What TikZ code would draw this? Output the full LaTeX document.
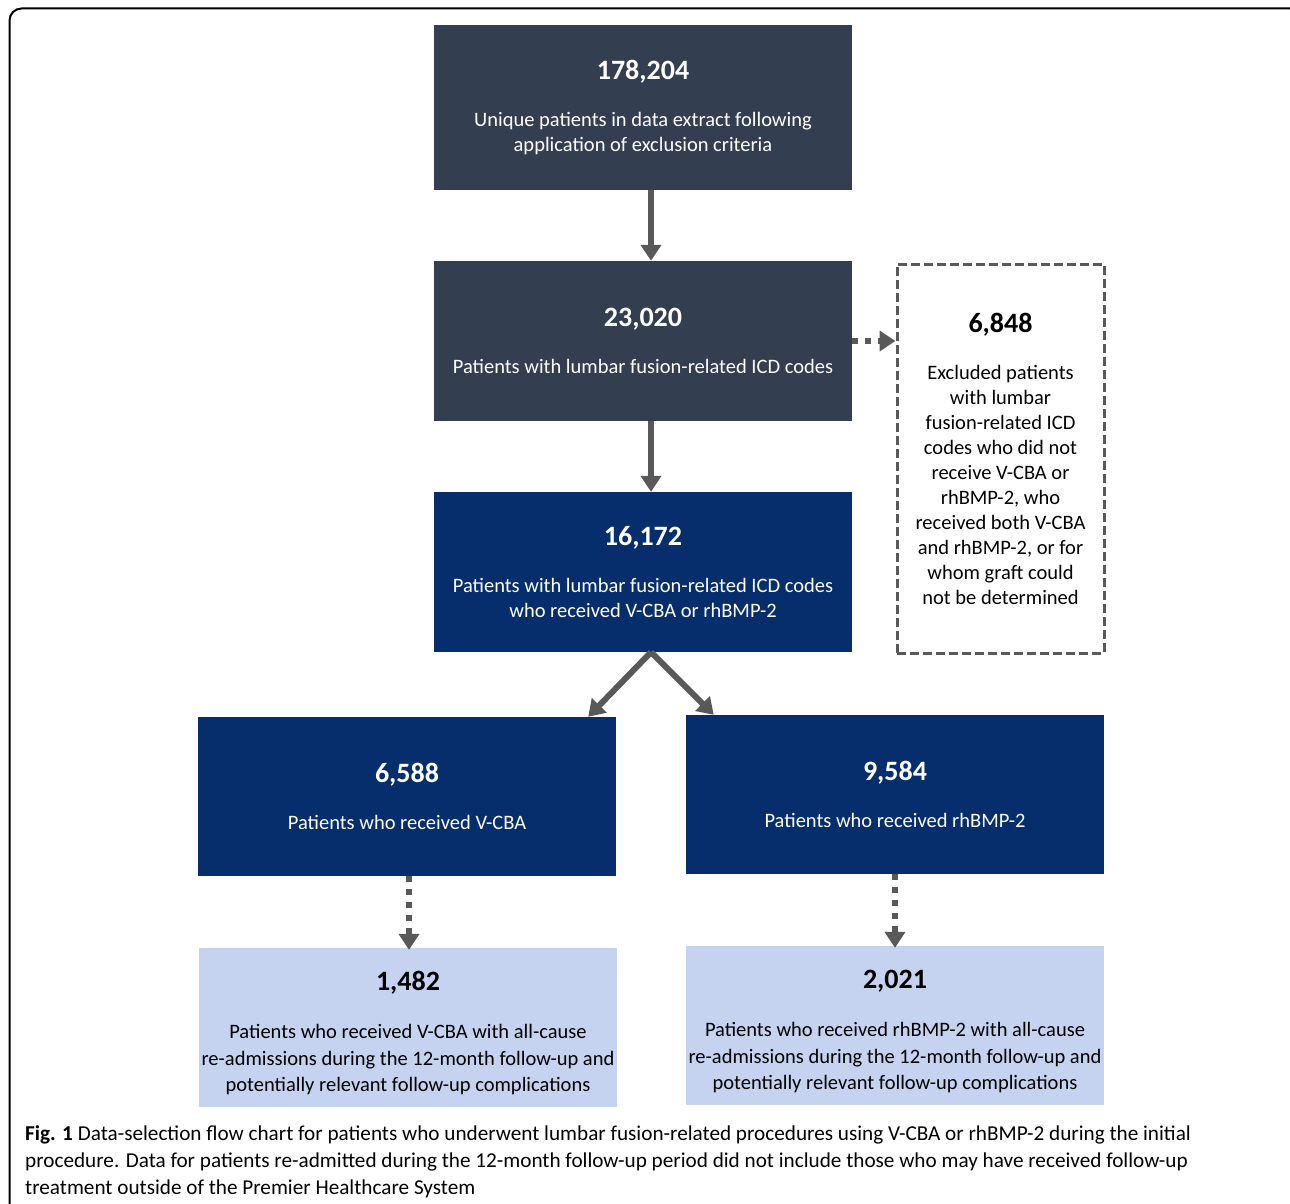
\documentclass[tikz,border=0pt]{standalone}
\usepackage{fontspec}
\setmainfont{Carlito}
\usetikzlibrary{arrows.meta,positioning}

\definecolor{slatebox}{HTML}{333F50}
\definecolor{navybox}{HTML}{062D6C}
\definecolor{lightbox}{HTML}{C5D3F0}
\definecolor{arrowgray}{HTML}{595959}

\newcommand{\flowtext}[2]{{\bfseries\fontsize{28}{25}\selectfont #1}\\[22pt]#2}

\tikzset{
	flowbox/.style={minimum width=418pt,minimum height=160pt,inner sep=0pt,align=center,
		font=\fontsize{20.5}{25}\selectfont},
	darkbox/.style={flowbox,fill=slatebox,text=white},
	bluebox/.style={flowbox,fill=navybox,text=white},
	palebox/.style={flowbox,fill=lightbox,text=black,font=\fontsize{20.5}{26.5}\selectfont},
	exclbox/.style={flowbox,minimum width=207pt,minimum height=389pt,fill=white,
		draw=arrowgray,line width=3pt,dash pattern=on 9pt off 4pt},
	solidarrow/.style={draw=arrowgray,line width=6pt,-{Triangle[width=20pt,length=16pt]}},
	dotarrow/.style={solidarrow,dash pattern=on 6pt off 7pt}
}

\begin{document}
\begin{tikzpicture}[x=1pt,y=-1pt]
		\useasboundingbox (0,0) rectangle (1290,1204);
		\draw[line width=2pt,rounded corners=12pt] (9.5,8.5) rectangle (1302,1216);
		% boxes
		\node[darkbox,minimum height=165pt] (total) at (643,107.5)
			{\flowtext{178,204}{Unique patients in data extract following\\application of exclusion criteria}};
		\node[darkbox] (icd) at (643,341)
			{\flowtext{23,020}{Patients with lumbar fusion-related ICD codes}};
		\node[bluebox] (graft) at (643,572)
			{\flowtext{16,172}{Patients with lumbar fusion-related ICD codes\\who received V-CBA or rhBMP-2}};
		\node[exclbox] (excl) at (1000.5,458.5)
			{\flowtext{6,848}{Excluded patients\\with lumbar\\fusion-related ICD\\codes who did not\\receive V-CBA or\\rhBMP-2, who\\received both V-CBA\\and rhBMP-2, or for\\whom graft could\\not be determined}};
		\node[bluebox,minimum height=159pt] (vcba) at (407,796.5)
			{\flowtext{6,588}{Patients who received V-CBA}};
		\node[bluebox,minimum height=159pt] (bmp) at (895,794.5)
			{\flowtext{9,584}{Patients who received rhBMP-2}};
		\node[palebox,minimum height=159pt] (vcbare) at (408,1027.5)
			{\flowtext{\rule{0pt}{30pt}1,482}{Patients who received V-CBA with all-cause\\re-admissions during the 12-month follow-up and\\potentially relevant follow-up complications}};
		\node[palebox,minimum height=159pt] (bmpre) at (895,1025.5)
			{\flowtext{\rule{0pt}{30pt}2,021}{Patients who received rhBMP-2 with all-cause\\re-admissions during the 12-month follow-up and\\potentially relevant follow-up complications}};
		% arrows
		\draw[solidarrow] ([xshift=8pt]total.south) -- ([xshift=8pt]icd.north);
		\draw[solidarrow] ([xshift=8pt]icd.south) -- ([xshift=8pt]graft.north);
		\draw[dotarrow] (icd.east) -- (icd.east -| excl.west);
		\draw[solidarrow] ([xshift=8pt]graft.south) -- ([xshift=-28pt]vcba.north east);
		\draw[solidarrow] ([xshift=8pt]graft.south) -- ([xshift=28pt]bmp.north west);
		\draw[dotarrow] ([xshift=2pt]vcba.south) -- ([xshift=1pt,yshift=-2pt]vcbare.north);
		\draw[dotarrow] (bmp.south) -- ([yshift=-2pt]bmpre.north);
		% caption
		\node[anchor=north west,inner sep=0pt,align=left,font=\fontsize{21.2}{27}\selectfont] (caption) at (25,1125)
			{\textbf{Fig. 1} Data-selection flow chart for patients who underwent lumbar fusion-related procedures using V-CBA or rhBMP-2 during the initial\\procedure. Data for patients re-admitted during the 12-month follow-up period did not include those who may have received follow-up\\treatment outside of the Premier Healthcare System};
\end{tikzpicture}
\end{document}
